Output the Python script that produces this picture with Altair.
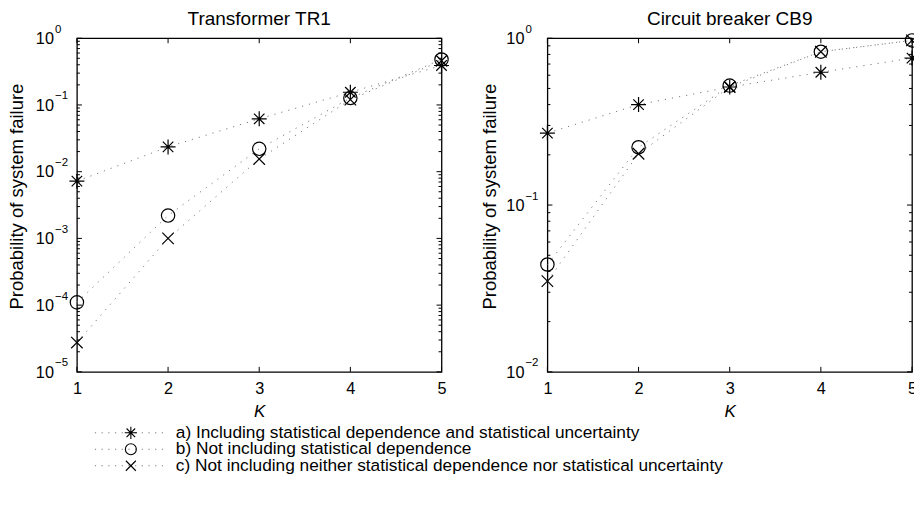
import altair as alt
import pandas as pd

FONT = "Liberation Sans"

K = [1, 2, 3, 4, 5]
series_keys = ["a", "b", "c"]
legend_labels = [
    "a) Including statistical dependence and statistical uncertainty",
    "b) Not including statistical dependence",
    "c) Not including neither statistical dependence nor statistical uncertainty",
]

# Transformer TR1
tr1_a = [7.2e-3, 2.35e-2, 6.2e-2, 0.155, 0.39]
tr1_b = [1.1e-4, 2.2e-3, 2.2e-2, 0.127, 0.48]
tr1_c = [2.75e-5, 1.0e-3, 1.55e-2, 0.12, 0.46]
# Circuit breaker CB9
cb9_a = [0.27, 0.40, 0.51, 0.625, 0.76]
cb9_b = [0.044, 0.222, 0.52, 0.83, 0.97]
cb9_c = [0.035, 0.203, 0.51, 0.83, 0.97]

tr1_major = [1, 1e-1, 1e-2, 1e-3, 1e-4, 1e-5]
tr1_exp = ["0", "\u22121", "\u22122", "\u22123", "\u22124", "\u22125"]
cb9_major = [1, 1e-1, 1e-2]
cb9_exp = ["0", "\u22121", "\u22122"]

ASTERISK = "M-1,0L1,0M0,-1L0,1M-0.7,-0.7L0.7,0.7M-0.7,0.7L0.7,-0.7"
CROSS = "M-1,-1L1,1M-1,1L1,-1"
shape_range = [ASTERISK, "circle", CROSS]
size_range = [225, 132, 121]
legend_sizes = [150, 121, 100]

W, H = 365, 334


def minor_ticks(lo_exp):
    return [m * 10.0 ** e for e in range(lo_exp, 0) for m in range(2, 10)]


def panel(title, a, b, c, major, exps, lo_exp, title_x, legend=False):
    ymin = 10.0 ** lo_exp
    df = pd.DataFrame({
        "K": K * 3,
        "P": a + b + c,
        "series": [s for s in series_keys for _ in K],
    })
    yscale = alt.Scale(type="log", domain=[ymin, 1], nice=False)
    xscale = alt.Scale(domain=[1, 5], nice=False, zero=False)
    shape_scale = alt.Scale(domain=series_keys, range=shape_range)

    lines = alt.Chart(df).mark_line(
        strokeDash=[1.2, 6], color="#7a7a7a", strokeWidth=1
    ).encode(
        x=alt.X("K:Q", scale=xscale, axis=alt.Axis(
            values=K, format="d", title="K", titleFontStyle="italic",
            titleFontSize=17, titleFontWeight="normal", labelFontSize=16.3,
            labelBaseline="alphabetic", labelPadding=22, tickSize=0, ticks=False,
            domain=False, grid=False, labelFlush=False, labelOverlap=False,
            titleX=W / 2, titleY=45, titleBaseline="alphabetic", titleAlign="center",
        )),
        y=alt.Y("P:Q", scale=yscale, axis=alt.Axis(
            title="Probability of system failure", labels=False, ticks=False,
            domain=False, grid=False, titleX=title_x, titleY=158, titleAngle=270,
            titleAlign="center", titleBaseline="middle", titleFontSize=18.5,
            titleFontWeight="normal",
        )),
        detail="series:N",
    )

    points = alt.Chart(df).mark_point(
        filled=False, color="black", strokeWidth=1.2, opacity=1
    ).encode(
        x=alt.X("K:Q", scale=xscale),
        y=alt.Y("P:Q", scale=yscale, axis=None),
        shape=alt.Shape("series:N", scale=shape_scale, legend=None),
        size=alt.Size("series:O", scale=alt.Scale(domain=series_keys, range=size_range), legend=None),
    )

    major_df = pd.DataFrame({"v": major})
    minor_df = pd.DataFrame({"v": minor_ticks(lo_exp)})
    layers = [lines, points]
    for d, ln in ((major_df, 5), (minor_df, 3)):
        for x0, x1 in ((0, ln), (W, W - ln)):
            layers.append(
                alt.Chart(d).mark_rule(color="black", strokeWidth=1).encode(
                    y=alt.Y("v:Q", scale=yscale, axis=None),
                    x=alt.value(x0), x2=alt.value(x1),
                )
            )
    kdf = pd.DataFrame({"K": K})
    for y0, y1 in ((H, H - 5), (0, 5)):
        layers.append(
            alt.Chart(kdf).mark_rule(color="black", strokeWidth=1).encode(
                x=alt.X("K:Q", scale=xscale),
                y=alt.value(y0), y2=alt.value(y1),
            )
        )

    lab_df = pd.DataFrame({"v": major, "e": exps})
    layers.append(
        alt.Chart(lab_df).mark_text(
            align="right", baseline="alphabetic", dy=5.8, fontSize=16.3,
            font=FONT, color="black"
        ).encode(
            y=alt.Y("v:Q", scale=yscale, axis=None),
            x=alt.value(-23), text=alt.value("10"),
        )
    )
    layers.append(
        alt.Chart(lab_df).mark_text(
            align="left", baseline="alphabetic", dy=-5.5, fontSize=11.5,
            font=FONT, color="black"
        ).encode(
            y=alt.Y("v:Q", scale=yscale, axis=None),
            x=alt.value(-22), text="e:N",
        )
    )

    layers.append(
        alt.Chart(pd.DataFrame({"t": [title]})).mark_text(
            align="center", baseline="alphabetic", fontSize=19, font=FONT, color="black"
        ).encode(x=alt.value(W / 2), y=alt.value(-13), text="t:N")
    )

    if legend:
        leg_df = pd.DataFrame({
            "series": series_keys, "label": legend_labels, "lsize": legend_sizes,
        })
        ly = alt.Y("series:N", scale=alt.Scale(type="point", domain=series_keys,
                                               range=[395, 428], padding=0), axis=None)
        layers.append(
            alt.Chart(leg_df).mark_rule(
                strokeDash=[1.2, 5.5], color="#7a7a7a", strokeWidth=1
            ).encode(y=ly, x=alt.value(18), x2=alt.value(91))
        )
        layers.append(
            alt.Chart(leg_df).mark_point(
                filled=False, color="black", strokeWidth=1.1, opacity=1
            ).encode(
                y=ly, x=alt.value(54),
                shape=alt.Shape("series:N", scale=shape_scale, legend=None),
                size=alt.Size("lsize:Q", scale=None),
            )
        )
        layers.append(
            alt.Chart(leg_df).mark_text(
                align="left", baseline="middle", fontSize=17.3, font=FONT, color="black"
            ).encode(y=ly, x=alt.value(99), text="label:N")
        )

    return alt.layer(*layers).resolve_scale(y="independent").properties(
        width=W, height=H,
    )


left = panel("Transformer TR1", tr1_a, tr1_b, tr1_c, tr1_major, tr1_exp, -5, -60, legend=True)
right = panel("Circuit breaker CB9", cb9_a, cb9_b, cb9_c, cb9_major, cb9_exp, -2, -58)

chart = alt.hconcat(left, right, spacing=106, bounds="flush").configure(
    padding={"left": 7, "top": 9, "right": -9, "bottom": 5},
    background="white",
).configure_view(
    stroke="black", strokeWidth=1.3
).configure_axis(
    labelFont=FONT, titleFont=FONT, labelColor="black", titleColor="black",
)

chart.save("out.html", embed_options={"renderer": "svg", "actions": False})
